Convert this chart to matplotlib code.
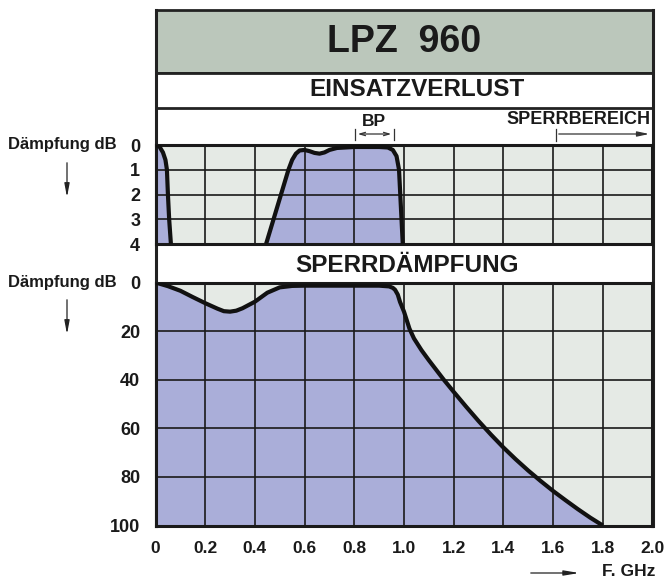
import numpy as np
import matplotlib
matplotlib.use("Agg")
import matplotlib.pyplot as plt
from matplotlib.patches import Rectangle

plt.rcParams['font.family'] = ['Liberation Sans', 'DejaVu Sans']
plt.rcParams['font.weight'] = 'bold'

# insertion loss (dB) - low pass skirt and band pass
lp_f = [0.0, 0.015, 0.03, 0.04, 0.046, 0.05, 0.055, 0.062]
lp_db = [0.0, 0.05, 0.3, 0.6, 1.0, 2.0, 3.0, 4.0]
bp_f = [0.445, 0.475, 0.505, 0.535, 0.55, 0.565, 0.58, 0.6, 0.62, 0.64, 0.66, 0.68,
        0.7, 0.73, 0.8, 0.9, 0.935, 0.955, 0.97, 0.98, 0.985, 0.99, 0.995]
bp_db = [4.0, 3.0, 2.0, 1.0, 0.6, 0.35, 0.22, 0.2, 0.25, 0.32, 0.35, 0.3,
         0.2, 0.12, 0.08, 0.08, 0.1, 0.2, 0.45, 1.0, 2.0, 3.0, 4.0]

# stopband attenuation (dB)
sd_f = [0.0, 0.05, 0.1, 0.15, 0.2, 0.25, 0.275, 0.3, 0.325, 0.35, 0.4, 0.45, 0.5,
        0.55, 0.6, 0.7, 0.8, 0.9, 0.94, 0.955, 0.964, 0.975, 0.984, 1.0, 1.022,
        1.04, 1.07, 1.1, 1.13, 1.16, 1.2, 1.25, 1.3, 1.35, 1.4, 1.45, 1.5, 1.55,
        1.6, 1.65, 1.7, 1.75, 1.8]
sd_db = [0.0, 1.5, 3.4, 6.0, 8.5, 10.8, 11.8, 12.0, 11.6, 10.6, 7.9, 4.2, 2.0,
         1.4, 1.3, 1.3, 1.3, 1.3, 1.6, 2.2, 3.0, 5.0, 8.0, 12.0, 19.0,
         23.0, 27.8, 32.0, 36.0, 40.0, 45.0, 51.1, 57.0, 62.6, 67.9, 72.8, 77.4, 81.7,
         85.8, 89.6, 93.3, 96.8, 100.0]

x_ticks = [0, 0.2, 0.4, 0.6, 0.8, 1.0, 1.2, 1.4, 1.6, 1.8, 2.0]
x_labels = ['0', '0.2', '0.4', '0.6', '0.8', '1.0', '1.2', '1.4', '1.6', '1.8', '2.0']
top_ticks = [0, 1, 2, 3, 4]
bot_ticks = [0, 20, 40, 60, 80, 100]

BG = '#e5eae5'
FILL = '#aaaed9'
HEAD = '#bbc7bb'
INK = '#1a1a1a'

W, H = 668, 581
fig = plt.figure(figsize=(W / 100, H / 100), dpi=100)

# overlay in pixel coordinates for the frame and the labels
ov = fig.add_axes([0, 0, 1, 1])
ov.set_xlim(0, W)
ov.set_ylim(H, 0)
ov.axis('off')
ov.add_patch(Rectangle((155.5, 10), 497, 63, facecolor=HEAD, edgecolor='#222222', lw=2))
ov.add_patch(Rectangle((155.5, 73), 497, 35, facecolor='white', edgecolor='#222222', lw=2))
ov.plot([155.5, 155.5], [10, 526], color='#222222', lw=2.2)
ov.plot([652.5, 652.5], [10, 526], color='#222222', lw=2.2)
ov.text(404, 42, 'LPZ  960', ha='center', va='center', fontsize=27, color=INK)
ov.text(417, 90, 'EINSATZVERLUST', ha='center', va='center', fontsize=17.5, color=INK)
ov.text(407, 266, 'SPERRDÄMPFUNG', ha='center', va='center', fontsize=17.5, color=INK)

# BP and Sperrbereich markers
ov.text(374, 121, 'BP', ha='center', va='center', fontsize=12.5, color=INK)
ov.annotate('', xy=(355, 134), xytext=(394, 134),
            arrowprops=dict(arrowstyle='<->,head_length=0.4,head_width=0.12', lw=0.9, color='#333333'))
ov.plot([355, 355], [129, 140], color='#333333', lw=0.9)
ov.plot([394, 394], [129, 140], color='#333333', lw=0.9)
ov.text(650, 120, 'SPERRBEREICH', ha='right', va='center', fontsize=13, color=INK)
ov.annotate('', xy=(652, 134), xytext=(556, 134),
            arrowprops=dict(arrowstyle='-|>,head_length=0.7,head_width=0.15', lw=0.9, color='#333333'))
ov.plot([556, 556], [129, 141], color='#333333', lw=0.9)

# axis captions
for yy in (145, 282):
    ov.text(8, yy, 'Dämpfung dB', ha='left', va='center', fontsize=12, color=INK)
    ov.annotate('', xy=(67, yy + 55), xytext=(67, yy + 15),
                arrowprops=dict(arrowstyle='-|>,head_length=0.8,head_width=0.15', lw=0.9, color='#222222'))
ov.text(655, 571, 'F. GHz', ha='right', va='center', fontsize=12.5, color=INK)
ov.annotate('', xy=(582, 573), xytext=(528, 573),
            arrowprops=dict(arrowstyle='-|>,head_length=0.9,head_width=0.15', lw=0.9, color='#222222'))


def panel(rect, ymax, ticks):
    ax = fig.add_axes(rect)
    ax.set_facecolor(BG)
    ax.set_xlim(0, 2)
    ax.set_ylim(ymax, 0)
    ax.set_xticks(x_ticks)
    ax.set_yticks(ticks)
    ax.grid(True, color=INK, lw=1.2)
    ax.set_axisbelow(False)
    ax.tick_params(length=0, labelsize=13, pad=11, colors=INK)
    for s in ax.spines.values():
        s.set_linewidth(2.2)
        s.set_color(INK)
    return ax


ax1 = panel([155.5 / W, 1 - 244 / H, 497 / W, 99 / H], 4, top_ticks)
ax1.set_xticklabels([])
ax1.fill_between(lp_f, lp_db, 4, color=FILL, lw=0, zorder=1)
ax1.fill_between(bp_f, bp_db, 4, color=FILL, lw=0, zorder=1)
ax1.plot(lp_f, lp_db, color='#111111', lw=3, solid_capstyle='butt', zorder=3)
ax1.plot(bp_f, bp_db, color='#111111', lw=3, solid_capstyle='butt', zorder=3)

ax2 = panel([155.5 / W, 1 - 525.5 / H, 497 / W, 243 / H], 100, bot_ticks)
ax2.set_xticklabels(x_labels)
ax2.tick_params(axis='x', pad=11, labelsize=12.5)
ax2.fill_between(sd_f, sd_db, 100, color=FILL, lw=0, zorder=1)
ax2.plot(sd_f, sd_db, color='#111111', lw=3, solid_capstyle='butt', zorder=3)

fig.savefig('out.png', dpi=100)
